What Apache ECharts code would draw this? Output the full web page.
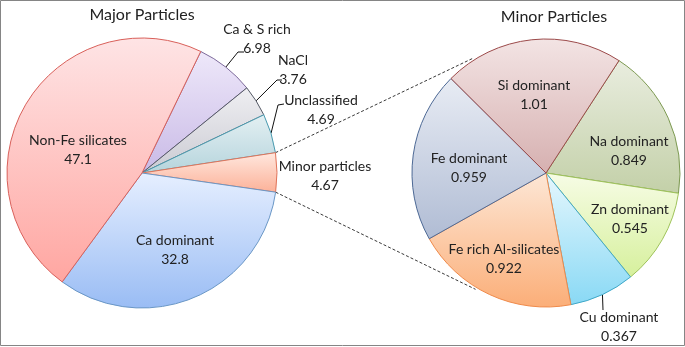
<!DOCTYPE html>
<html>
<head>
<meta charset="utf-8">
<script src="https://cdn.jsdelivr.net/npm/echarts@6/dist/echarts.min.js"></script>
<style>
    html, body { margin: 0; padding: 0; background: #ffffff; }
    #chart { width: 685px; height: 347px; }
</style>
</head>
<body>
<div id="chart"></div>
<script>
// data (clockwise from the first slice)
const majorNames = ["Ca & S rich", "NaCl", "Unclassified", "Minor particles", "Ca dominant", "Non-Fe silicates"];
const majorValues = [6.98, 3.76, 4.69, 4.67, 32.8, 47.1];

const minorNames = ["Na dominant", "Zn dominant", "Cu dominant", "Fe rich Al-silicates", "Fe dominant", "Si dominant"];
const minorValues = [0.849, 0.545, 0.367, 0.922, 0.959, 1.01];

const titles = ["Major Particles", "Minor Particles"];

// styles
const FONT = "Lato";
const TEXT_COLOR = "#222222";

const majorColors = [
    ["#eee8fa", "#c9bae6", "#7d6a9b"],
    ["#efeff2", "#cbcbd3", "#555a66"],
    ["#e4f0f3", "#b5d4dc", "#4a9bb0"],
    ["#ffe8df", "#fcb198", "#e0745a"],
    ["#e6efff", "#99bcf4", "#6a97c6"],
    ["#fee4e5", "#ffa6a1", "#d9605a"],
];
const minorColors = [
    ["#e9eddf", "#c3d0a8", "#7d9a52"],
    ["#f7fce6", "#d6f09c", "#9fc35a"],
    ["#e6f7fd", "#89d9f5", "#40a8c8"],
    ["#fde7d6", "#fbae78", "#f08a4a"],
    ["#e8ecf4", "#b0bcd4", "#4d6995"],
    ["#f3e4e4", "#d6b0b0", "#9c4a4a"],
];

const majorPie = { cx: 142, cy: 173, r: 135, start: 64.2 };
const minorPie = { cx: 546, cy: 173, r: 134, start: 57 };

// label placement: block centre, optional leader line bend/end
const majorLabelPos = [
    { x: 257, y: 39, line: [[238, 52], [244, 52]] },
    { x: 293, y: 70, line: [[277, 80], [282, 80]] },
    { x: 321, y: 110, line: [[278, 105], [284, 104]] },
    { x: 325, y: 176 },
    { x: 175, y: 250 },
    { x: 78, y: 150 },
];
const minorLabelPos = [
    { x: 629, y: 151 },
    { x: 630, y: 219 },
    { x: 619, y: 327, line: [[603, 310], [603, 310]] },
    { x: 504, y: 259 },
    { x: 469, y: 168 },
    { x: 534, y: 95 },
];

function gradient(c) {
    return {
        type: "linear", x: 0, y: 0, x2: 0, y2: 1,
        colorStops: [{ offset: 0, color: c[0] }, { offset: 1, color: c[1] }],
    };
}

// angle (echarts convention, degrees) of the boundary before slice idx
function boundaryAngle(values, start, idx) {
    let total = values.reduce((a, b) => a + b, 0);
    let acc = 0;
    for (let i = 0; i < idx; i++) acc += values[i];
    return start - (acc / total) * 360;
}

function pointAt(pie, angle, r) {
    let rad = (angle * Math.PI) / 180;
    return [pie.cx + r * Math.cos(rad), pie.cy - r * Math.sin(rad)];
}

function buildData(names, values, colors, positions) {
    let data = [];
    for (let i = 0; i < names.length; i++) {
        let outside = !!positions[i].line;
        data.push({
            name: names[i],
            value: values[i],
            itemStyle: { color: gradient(colors[i]), borderColor: colors[i][2], borderWidth: 1 },
            label: { position: outside ? "outside" : "inside" },
            labelLine: { show: outside, length: 10, length2: 5 },
        });
    }
    return data;
}

function makeLayout(pie, values, positions) {
    return function (params) {
        let p = positions[params.dataIndex];
        let out = { x: p.x, y: p.y, align: "center", verticalAlign: "middle" };
        if (p.line) {
            let mid = (boundaryAngle(values, pie.start, params.dataIndex) +
                boundaryAngle(values, pie.start, params.dataIndex + 1)) / 2;
            out.labelLinePoints = [pointAt(pie, mid, pie.r), p.line[0], p.line[1]];
        }
        return out;
    };
}

function pieSeries(pie, names, values, colors, positions) {
    return {
        type: "pie",
        center: [pie.cx, pie.cy],
        radius: pie.r,
        startAngle: pie.start,
        clockwise: true,
        avoidLabelOverlap: false,
        silent: true,
        label: {
            show: true,
            formatter: "{b}\n{c}",
            fontFamily: FONT,
            fontSize: 14,
            lineHeight: 19,
            color: TEXT_COLOR,
        },
        labelLine: { lineStyle: { color: "#111111", width: 1 }, smooth: false },
        labelLayout: makeLayout(pie, values, positions),
        data: buildData(names, values, colors, positions),
    };
}

// connector lines from the "Minor particles" slice to the second pie
let minorIdx = majorNames.indexOf("Minor particles");
let leftTop = pointAt(majorPie, boundaryAngle(majorValues, majorPie.start, minorIdx), majorPie.r);
let leftBottom = pointAt(majorPie, boundaryAngle(majorValues, majorPie.start, minorIdx + 1), majorPie.r);
let rightTop = pointAt(minorPie, 122.4, minorPie.r + 2);
let rightBottom = pointAt(minorPie, 238.8, minorPie.r + 2);

let chart = echarts.init(document.getElementById("chart"), null, { renderer: "canvas" });

let option = {
    animation: false,
    backgroundColor: "#ffffff",
    title: [
        {
            text: titles[0], left: 137, top: 2, textAlign: "center",
            textStyle: { fontFamily: FONT, fontSize: 16, fontWeight: "normal", color: TEXT_COLOR },
        },
        {
            text: titles[1], left: 549, top: 4, textAlign: "center",
            textStyle: { fontFamily: FONT, fontSize: 16, fontWeight: "normal", color: TEXT_COLOR },
        },
    ],
    graphic: {
        elements: [
            {
                type: "rect", silent: true,
                shape: { x: 0.5, y: 0.5, width: 684, height: 345 },
                style: { fill: null, stroke: "#858585", lineWidth: 1 },
            },
            {
                type: "line", silent: true,
                shape: { x1: leftTop[0], y1: leftTop[1], x2: rightTop[0], y2: rightTop[1] },
                style: { stroke: "#3a3a3a", lineWidth: 1, lineDash: [3, 2] },
            },
            {
                type: "line", silent: true,
                shape: { x1: leftBottom[0], y1: leftBottom[1], x2: rightBottom[0], y2: rightBottom[1] },
                style: { stroke: "#3a3a3a", lineWidth: 1, lineDash: [3, 2] },
            },
        ],
    },
    series: [
        pieSeries(majorPie, majorNames, majorValues, majorColors, majorLabelPos),
        pieSeries(minorPie, minorNames, minorValues, minorColors, minorLabelPos),
    ],
};

option && chart.setOption(option);
</script>
</body>
</html>
